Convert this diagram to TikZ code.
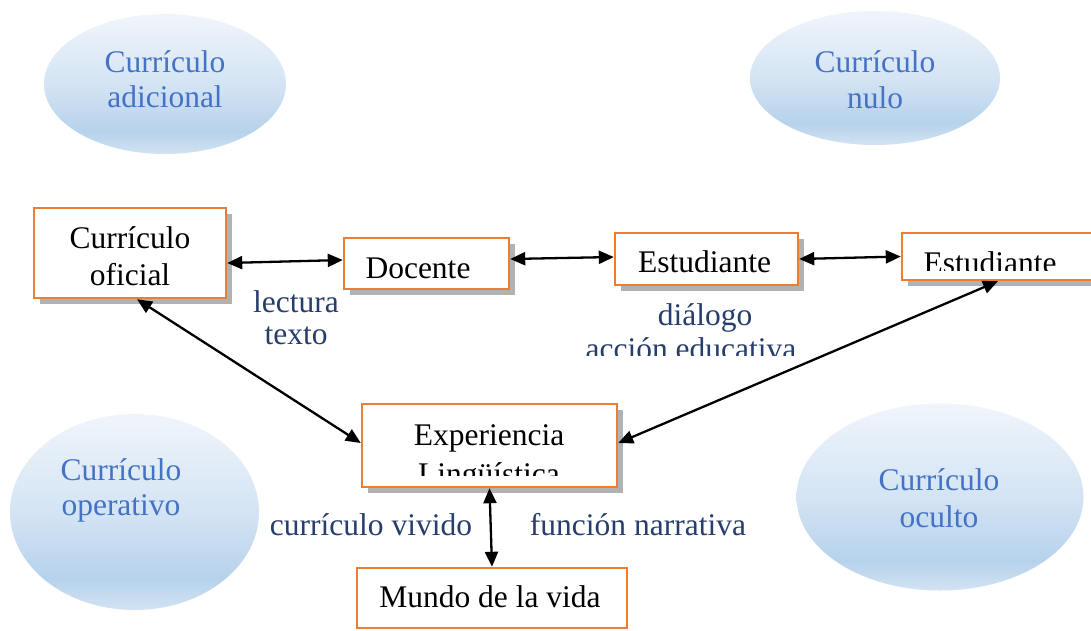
\documentclass[tikz,border=0pt]{standalone}
\usepackage{fontspec}
\setmainfont{Liberation Serif}
\usetikzlibrary{arrows.meta,shadows,shapes.geometric}
\definecolor{boxorange}{HTML}{ED7D31}
\definecolor{elltext}{HTML}{4472C4}
\definecolor{lbltext}{RGB}{38,62,108}
\definecolor{ellT}{HTML}{F0F5FB}
\definecolor{ellM}{HTML}{D4E4F4}
\definecolor{ellD}{HTML}{B6D2EB}
\definecolor{ellB}{HTML}{D2E3F3}
\pgfdeclareverticalshading{ellgrad}{100bp}{color(0bp)=(ellB); color(25bp)=(ellB); color(33bp)=(ellD); color(50bp)=(ellM); color(75bp)=(ellT); color(100bp)=(ellT)}
\tikzset{
  bigfont/.style={font=\fontsize{31.5}{36}\selectfont},
  ell/.style={ellipse, draw=none, shading=ellgrad, inner sep=0pt},
  elltxt/.style={bigfont, text=elltext, anchor=base, inner sep=0pt},
  boxtxt/.style={bigfont, text=black, anchor=base, inner sep=0pt},
  lbl/.style={bigfont, text=lbltext, anchor=base, inner sep=0pt},
  plainbox/.style={rectangle, draw=boxorange, line width=2.4pt, fill=white, inner sep=0pt},
  box/.style={plainbox, drop shadow={shadow xshift=6pt, shadow yshift=-6pt, fill=gray!60, opacity=1}},
  arr/.style={{Triangle[length=15pt,width=13pt]}-{Triangle[length=15pt,width=13pt]}, line width=2.3pt, black}
}
\begin{document}
\begin{tikzpicture}[x=1pt,y=-1pt]
\useasboundingbox (0,0) rectangle (1091,630);
\fill[white] (0,0) rectangle (1091,630);

% ellipses
\node[ell, minimum width=242pt, minimum height=140pt] (adi) at (165,84) {};
\node[elltxt] (adiT1) at (165,72) {Currículo};
\node[elltxt] (adiT2) at (165,107) {adicional};

\node[ell, minimum width=250pt, minimum height=134pt] (nul) at (875,78) {};
\node[elltxt] (nulT1) at (875,72) {Currículo};
\node[elltxt] (nulT2) at (875,108) {nulo};

\node[ell, minimum width=249pt, minimum height=196pt] (ope) at (134.5,512) {};
\node[elltxt] (opeT1) at (121,480) {Currículo};
\node[elltxt] (opeT2) at (121,515) {operativo};

\node[ell, minimum width=287pt, minimum height=187pt] (ocu) at (940,497) {};
\node[elltxt] (ocuT1) at (939,490) {Currículo};
\node[elltxt] (ocuT2) at (939,527) {oculto};

% boxes
\node[box, minimum width=192pt, minimum height=90pt] (ofi) at (130,253) {};
\node[boxtxt] (ofiT1) at (130,248) {Currículo};
\node[boxtxt] (ofiT2) at (130,285) {oficial};

\node[box, minimum width=165pt, minimum height=51pt] (doc) at (426.5,263.5) {};
\node[boxtxt] (docT) at (418,278) {Docente};

\node[box, minimum width=183pt, minimum height=52pt] (est1) at (706.5,259) {};
\node[boxtxt] (est1T) at (704.5,272) {Estudiante};

\node[box, minimum width=198pt, minimum height=47pt] (est2) at (1001,256.5) {};
\begin{scope}
  \clip (880,230) rectangle (1091,270);
  \node[boxtxt] (est2T) at (990,273) {Estudiante};
\end{scope}

\node[box, minimum width=255pt, minimum height=83pt] (exp) at (489.5,445.5) {};
\node[boxtxt] (expT1) at (489,445) {Experiencia};
\begin{scope}
  \clip (370,450) rectangle (610,475);
  \node[boxtxt] (expT2) at (489,484) {Lingüística};
\end{scope}

\node[plainbox, minimum width=270pt, minimum height=60pt] (mun) at (492,598) {};
\node[boxtxt] (munT) at (490,607) {Mundo de la vida};

% labels
\node[lbl] (lec) at (296,312) {lectura};
\node[lbl] (tex) at (296,344) {texto};
\node[lbl] (dia) at (705,325) {diálogo};
\begin{scope}
  \clip (560,330) rectangle (830,355);
  \node[lbl] (acc) at (691,359) {acción educativa};
\end{scope}
\node[lbl] (viv) at (371,535) {currículo vivido};
\node[lbl] (nar) at (638,535) {función narrativa};

% connectors
\draw[arr] ([yshift=-10pt]ofi.east) -- ([yshift=3.5pt]doc.west);
\draw[arr] ([yshift=4.5pt]doc.east) -- ([yshift=2pt]est1.west);
\draw[arr] (est1.east) -- (est2.west);
\draw[arr] ([xshift=7pt]ofi.south) -- ([yshift=2.5pt]exp.west);
\draw[arr] ([xshift=-3pt]est2.south) -- ([yshift=2.5pt]exp.east);
\draw[arr] (exp.south) -- (mun.north);
\end{tikzpicture}
\end{document}
